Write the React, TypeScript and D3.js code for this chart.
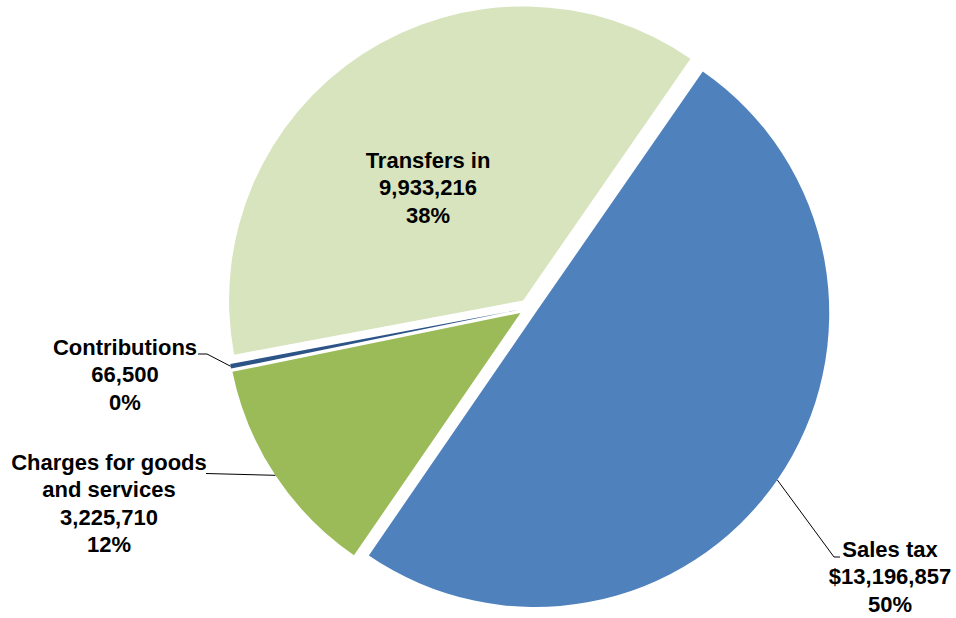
import React, { useEffect, useRef } from "react"
import * as d3 from "d3"

// data
const categories = ["Sales tax", "Charges for goods and services", "Contributions", "Transfers in"]
const amounts = [13196857, 3225710, 66500, 9933216]
const nameLines = [["Sales tax"], ["Charges for goods", "and services"], ["Contributions"], ["Transfers in"]]
const prefixes = ["$", "", "", ""]
const colors = ["#4F81BD", "#9BBB59", "#2C5487", "#D7E4BD"]

// layout
const WIDTH = 956
const HEIGHT = 618
const CENTER = { x: 528, y: 308 }
const RADIUS = 294
const EXPLODE = 9
const START_DEG = 34.7
const LINE_H = 27.3
// label anchor: text center x, first baseline y, leader path points (elbow, end) or null for inside
const labelLayout = [
	{ x: 890, y: 557, leader: [[834, 557], [840, 557]] },
	{ x: 109, y: 470, leader: [[206, 473.5]] },
	{ x: 125, y: 355, leader: [[207, 354], [198, 354]] },
	{ x: 428, y: 168, leader: null },
]

const App = () => {
	const svgRef = useRef<SVGSVGElement>(null)

	useEffect(() => {
		const svg = d3.select(svgRef.current)
		svg.selectAll("*").remove()

		const rows = categories.map((name, i) => ({ name, value: amounts[i], i }))
		const total = d3.sum(amounts)
		const start = (START_DEG * Math.PI) / 180

		const pie = d3
			.pie<any>()
			.sort(null)
			.value((d) => d.value)
			.startAngle(start)
			.endAngle(start + 2 * Math.PI)
		const arcs = pie(rows)

		const arc = d3.arc<any>().innerRadius(0).outerRadius(RADIUS)
		const offset = (a) => {
			const mid = (a.startAngle + a.endAngle) / 2
			return [Math.sin(mid) * EXPLODE, -Math.cos(mid) * EXPLODE]
		}

		const g = svg.append("g").attr("transform", `translate(${CENTER.x},${CENTER.y})`)

		g.selectAll("path.slice")
			.data(arcs)
			.join("path")
			.attr("class", "slice")
			.attr("d", arc)
			.attr("fill", (d) => colors[d.data.i])
			.attr("transform", (d) => {
				const [ox, oy] = offset(d)
				return `translate(${ox},${oy})`
			})

		// leader lines
		const line = d3.line()
		arcs.forEach((a) => {
			const lay = labelLayout[a.data.i]
			if (!lay.leader) return
			const mid = (a.startAngle + a.endAngle) / 2
			const [ox, oy] = offset(a)
			const p0: [number, number] = [
				CENTER.x + ox + Math.sin(mid) * RADIUS,
				CENTER.y + oy - Math.cos(mid) * RADIUS,
			]
			svg.append("path")
				.attr("d", line([p0, ...(lay.leader as [number, number][])]))
				.attr("fill", "none")
				.attr("stroke", "#000")
				.attr("stroke-width", 1)
		})

		// labels
		const fmt = d3.format(",")
		const pct = d3.format(".0%")
		arcs.forEach((a) => {
			const i = a.data.i
			const lay = labelLayout[i]
			const lines = [...nameLines[i], prefixes[i] + fmt(amounts[i]), pct(amounts[i] / total)]
			const text = svg
				.append("text")
				.attr("text-anchor", "middle")
				.attr("font-family", "'Liberation Sans', Arial, sans-serif")
				.attr("font-weight", "bold")
				.attr("font-size", 22)
				.attr("fill", "#000")
			lines.forEach((t, k) => {
				text.append("tspan").attr("x", lay.x).attr("y", lay.y + k * LINE_H).text(t)
			})
		})
	}, [])

	return (
		<svg
			ref={svgRef}
			width={WIDTH}
			height={HEIGHT}
			style={{ position: "absolute", left: 0, top: 0, background: "#fff" }}
		/>
	)
}

export default App
